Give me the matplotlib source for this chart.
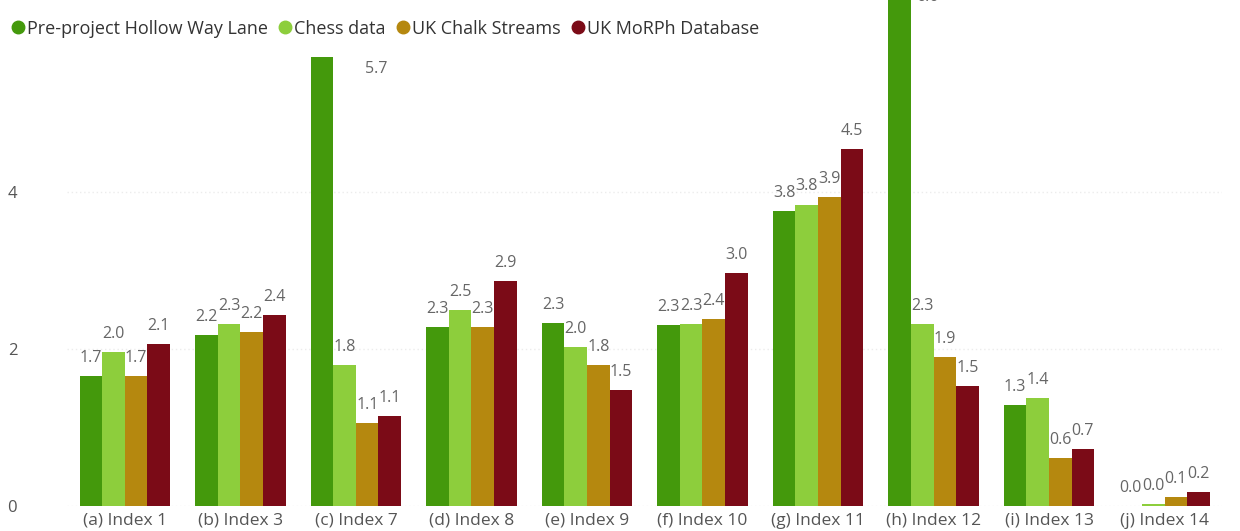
import matplotlib
matplotlib.use("Agg")
import matplotlib.pyplot as plt
from matplotlib.lines import Line2D
import numpy as np

plt.rcParams['font.family'] = ['Open Sans', 'DejaVu Sans']

# categories and series
categories = ['(a) Index 1', '(b) Index 3', '(c) Index 7', '(d) Index 8', '(e) Index 9',
              '(f) Index 10', '(g) Index 11', '(h) Index 12', '(i) Index 13', '(j) Index 14']
series_names = ['Pre-project Hollow Way Lane', 'Chess data', 'UK Chalk Streams', 'UK MoRPh Database']
pre_project = [1.66, 2.18, 5.72, 2.28, 2.33, 2.31, 3.76, 6.6, 1.29, 0.0]
chess = [1.96, 2.32, 1.80, 2.50, 2.02, 2.32, 3.84, 2.32, 1.38, 0.02]
chalk = [1.66, 2.22, 1.06, 2.28, 1.80, 2.38, 3.94, 1.90, 0.61, 0.12]
morph = [2.06, 2.43, 1.14, 2.87, 1.48, 2.97, 4.55, 1.53, 0.72, 0.18]

colors = ['#44990c', '#8dce3c', '#b5880f', '#7b0b17']
text_grey = '#666666'

values = [pre_project, chess, chalk, morph]

# labels of the two tallest bars sit beside the bar (series, category) -> offset in points
side_labels = {(0, 2): (23, -9), (0, 7): (3.6, -6.5)}

fig = plt.figure(figsize=(12.4, 5.31), dpi=100)
# axes run past the top of the figure, as in the cropped original
ax = fig.add_axes([0.0542, 0.0471, 0.9315, 1.035])

x = np.arange(len(categories))
w = 0.195
for k, vals in enumerate(values):
    pos = x + (k - 1.5) * w
    ax.bar(pos, vals, width=w, color=colors[k], zorder=2)
    for i, (p, v) in enumerate(zip(pos, vals)):
        txt = f'{v:.1f}'
        if (k, i) in side_labels:
            ax.annotate(txt, (p + w / 2, v), xytext=side_labels[(k, i)], textcoords='offset points',
                        ha='left', va='center', fontsize=11.5, color=text_grey)
        else:
            ax.annotate(txt, (p, v), xytext=(0, 13), textcoords='offset points',
                        ha='center', va='center', fontsize=11.5, color=text_grey)

ax.set_xlim(-0.5, len(categories) - 0.5)
ax.set_ylim(0, 7)
ax.set_xticks(x)
ax.set_xticklabels(categories, fontsize=12.5, color='#555555')
ax.set_yticks([0, 2, 4])
ax.set_yticklabels(['0', '2', '4'], fontsize=12, color='#555555')
ax.tick_params(axis='both', length=0)
ax.tick_params(axis='x', pad=5)
ax.tick_params(axis='y', pad=36)
ax.grid(axis='y', color='#ececec', linestyle=(0, (1, 2)), linewidth=1, zorder=0)
for s in ax.spines.values():
    s.set_visible(False)

handles = [Line2D([], [], marker='o', linestyle='', markersize=9, color=c) for c in colors]
fig.legend(handles, series_names, loc='center left', bbox_to_anchor=(0.003, 0.946),
           ncol=4, frameon=False, fontsize=13, handletextpad=0.0, columnspacing=0.45,
           handlelength=1.0, borderaxespad=0, borderpad=0.3, labelcolor='#333333')

fig.savefig('out.png', dpi=100)
